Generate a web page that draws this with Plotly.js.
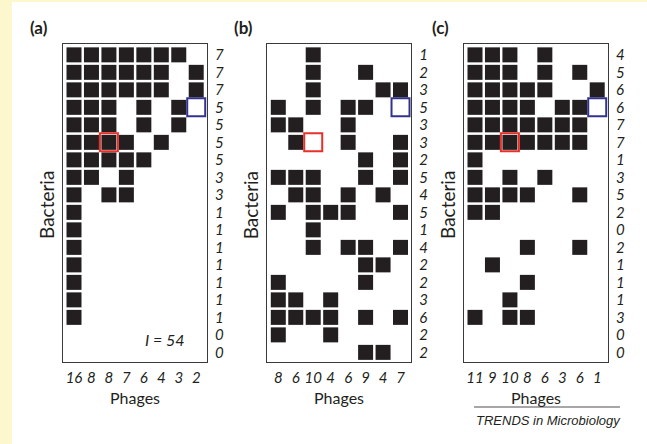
<!DOCTYPE html>
<html>
<head>
<meta charset="utf-8">
<script src="https://cdn.plot.ly/plotly-3.0.1.min.js"></script>
<style>
  html, body { margin: 0; padding: 0; background: #fcf7cd; width: 647px; height: 444px; overflow: hidden; }
  #chart { position: absolute; left: 12px; top: 2px; width: 635px; height: 442px; background: #ffffff; }
</style>
</head>
<body>
<div id="chart"></div>
<script>
// ---- Data ----
const panelNames = ["(a)", "(b)", "(c)"];

const matrixA = [
  [1,1,1,1,1,1,1,0],
  [1,1,1,1,1,1,0,1],
  [1,1,1,1,1,1,0,1],
  [1,1,1,0,1,0,1,0],
  [1,1,1,0,1,0,1,0],
  [1,1,1,1,0,1,0,0],
  [1,1,1,1,1,0,0,0],
  [1,1,0,1,0,0,0,0],
  [1,0,1,1,0,0,0,0],
  [1,0,0,0,0,0,0,0],
  [1,0,0,0,0,0,0,0],
  [1,0,0,0,0,0,0,0],
  [1,0,0,0,0,0,0,0],
  [1,0,0,0,0,0,0,0],
  [1,0,0,0,0,0,0,0],
  [1,0,0,0,0,0,0,0],
  [0,0,0,0,0,0,0,0],
  [0,0,0,0,0,0,0,0]
];
const matrixB = [
  [0,0,1,0,0,0,0,0],
  [0,0,1,0,0,1,0,0],
  [0,0,1,0,0,0,1,1],
  [1,0,1,0,1,1,0,0],
  [1,1,0,0,1,0,0,0],
  [0,1,0,0,1,0,0,1],
  [0,0,0,0,0,1,0,1],
  [1,1,1,0,0,1,0,1],
  [0,1,1,0,1,0,1,0],
  [1,0,1,1,1,0,0,1],
  [0,0,1,0,0,0,0,0],
  [0,0,1,0,1,1,0,1],
  [0,0,0,0,0,1,1,0],
  [1,0,0,0,0,1,0,0],
  [1,1,0,1,0,0,0,0],
  [1,1,1,1,0,1,0,1],
  [1,0,0,1,0,0,0,0],
  [0,0,0,0,0,1,1,0]
];
const matrixC = [
  [1,1,1,0,1,0,0,0],
  [1,1,1,0,1,0,1,0],
  [1,1,1,1,1,0,0,1],
  [1,1,1,1,0,1,1,0],
  [1,1,1,1,1,1,1,0],
  [1,1,1,1,1,1,1,0],
  [1,0,0,0,0,0,0,0],
  [1,0,1,0,1,0,0,0],
  [1,1,1,1,0,0,1,0],
  [1,1,0,0,0,0,0,0],
  [0,0,0,0,0,0,0,0],
  [0,0,0,1,0,0,1,0],
  [0,1,0,0,0,0,0,0],
  [0,0,0,1,0,0,0,0],
  [0,0,1,0,0,0,0,0],
  [1,0,1,1,0,0,0,0],
  [0,0,0,0,0,0,0,0],
  [0,0,0,0,0,0,0,0]
];

const rowLabelsA = [7,7,7,5,5,5,5,3,3,1,1,1,1,1,1,1,0,0];
const rowLabelsB = [1,2,3,5,3,3,2,5,4,5,1,4,2,2,3,6,2,2];
const rowLabelsC = [4,5,6,6,7,7,1,3,5,2,0,2,1,1,1,3,0,0];

const colLabelsA = [16,8,8,7,6,4,3,2];
const colLabelsB = [8,6,10,4,6,9,4,7];
const colLabelsC = [11,9,10,8,6,3,6,1];

// highlighted cells: [row, column] (1-based)
const redCell  = [6, 3];
const blueCell = [4, 8];

const nestednessText = "I = 54";

// ---- Build the figure ----
const matrices = [matrixA, matrixB, matrixC];
const rowLabels = [rowLabelsA, rowLabelsB, rowLabelsC];
const colLabels = [colLabelsA, colLabelsB, colLabelsC];

const W = 635, H = 442;
const boxLeft = [51, 255.3, 452];
const boxWidth = 143.7;
const boxTop = 42, boxBottom = 360;

const fontFam = "Lato, 'Open Sans', sans-serif";
const ink = "#231f20";

const traces = [];
const layout = {
  width: W, height: H,
  margin: {l: 0, r: 0, t: 0, b: 0},
  paper_bgcolor: "#ffffff",
  plot_bgcolor: "#ffffff",
  showlegend: false,
  annotations: [],
  shapes: []
};

matrices.forEach((m, p) => {
  const sfx = p === 0 ? "" : String(p + 1);
  const xs = [], ys = [];
  m.forEach((row, r) => row.forEach((v, c) => { if (v) { xs.push(c + 1); ys.push(r + 1); } }));
  traces.push({
    type: "scatter", mode: "markers", x: xs, y: ys,
    xaxis: "x" + sfx, yaxis: "y" + sfx,
    marker: {symbol: "square", size: 15, color: ink, line: {width: 0}},
    hoverinfo: "skip", cliponaxis: false
  });
  traces.push({
    type: "scatter", mode: "markers", x: [redCell[1]], y: [redCell[0]],
    xaxis: "x" + sfx, yaxis: "y" + sfx,
    marker: {symbol: "square-open", size: 18, color: "#e8302a", line: {width: 2, color: "#e8302a"}},
    hoverinfo: "skip", cliponaxis: false
  });
  traces.push({
    type: "scatter", mode: "markers", x: [blueCell[1]], y: [blueCell[0]],
    xaxis: "x" + sfx, yaxis: "y" + sfx,
    marker: {symbol: "square-open", size: 18, color: "#33338f", line: {width: 2, color: "#33338f"}},
    hoverinfo: "skip", cliponaxis: false
  });

  const nCols = m[0].length, nRows = m.length;
  layout["xaxis" + sfx] = {
    domain: [boxLeft[p] / W, (boxLeft[p] + boxWidth) / W],
    anchor: "y" + sfx,
    range: [0.37, nCols + 0.6],
    showgrid: false, zeroline: false,
    showline: true, mirror: true, linecolor: "#3a3a3a", linewidth: 1.2,
    ticks: "outside", ticklen: 2, tickcolor: "rgba(0,0,0,0)",
    tickvals: colLabels[p].map((_, i) => i + 1),
    ticktext: colLabels[p].map(String),
    tickfont: {family: fontFam, size: 15, style: "italic", color: ink},
    fixedrange: true
  };
  layout["yaxis" + sfx] = {
    domain: [1 - boxBottom / H, 1 - boxTop / H],
    anchor: "x" + sfx,
    side: "right",
    range: [nRows + 0.55, 0.38],
    showgrid: false, zeroline: false,
    showline: true, mirror: true, linecolor: "#3a3a3a", linewidth: 1.2,
    ticks: "outside", ticklen: 4, tickcolor: "rgba(0,0,0,0)",
    tickvals: rowLabels[p].map((_, i) => i + 1),
    ticktext: rowLabels[p].map(String),
    tickfont: {family: fontFam, size: 15, style: "italic", color: ink},
    fixedrange: true
  };

  // "Phages" axis label
  layout.annotations.push({
    text: "Phages", xref: "paper", yref: "paper",
    x: (boxLeft[p] + boxWidth / 2) / W, y: 1 - 395 / H,
    xanchor: "center", yanchor: "middle", showarrow: false,
    font: {family: fontFam, size: 16, color: ink}
  });
  // "Bacteria" side title
  layout.annotations.push({
    text: "Bacteria", xref: "paper", yref: "paper",
    x: (boxLeft[p] - 16) / W, y: 1 - 203 / H,
    xanchor: "center", yanchor: "middle", textangle: -90, showarrow: false,
    font: {family: fontFam, size: 19, color: ink}
  });
  // panel letter
  layout.annotations.push({
    text: "<b>" + panelNames[p] + "</b>", xref: "paper", yref: "paper",
    x: (boxLeft[p] - 24) / W, y: 1 - 25 / H,
    xanchor: "center", yanchor: "middle", showarrow: false,
    font: {family: fontFam, size: 17, color: ink}
  });
});

// nestedness value in panel (a)
layout.annotations.push({
  text: "<i>" + nestednessText + "</i>", xref: "x", yref: "y",
  x: 7.5, y: 17.25, xanchor: "right", yanchor: "middle", showarrow: false,
  font: {family: fontFam, size: 16, color: ink}
});

// journal credit
layout.annotations.push({
  text: "<i>TRENDS in Microbiology</i>", xref: "paper", yref: "paper",
  x: 536 / W, y: 1 - 418 / H, xanchor: "center", yanchor: "middle", showarrow: false,
  font: {family: "'Liberation Sans', Arial, sans-serif", size: 13, color: ink}
});
layout.shapes.push({
  type: "line", xref: "paper", yref: "paper",
  x0: 462 / W, x1: 608 / W, y0: 1 - 405 / H, y1: 1 - 405 / H,
  line: {color: ink, width: 0.8}
});

Plotly.newPlot("chart", traces, layout, {staticPlot: true, displayModeBar: false});
</script>
</body>
</html>
